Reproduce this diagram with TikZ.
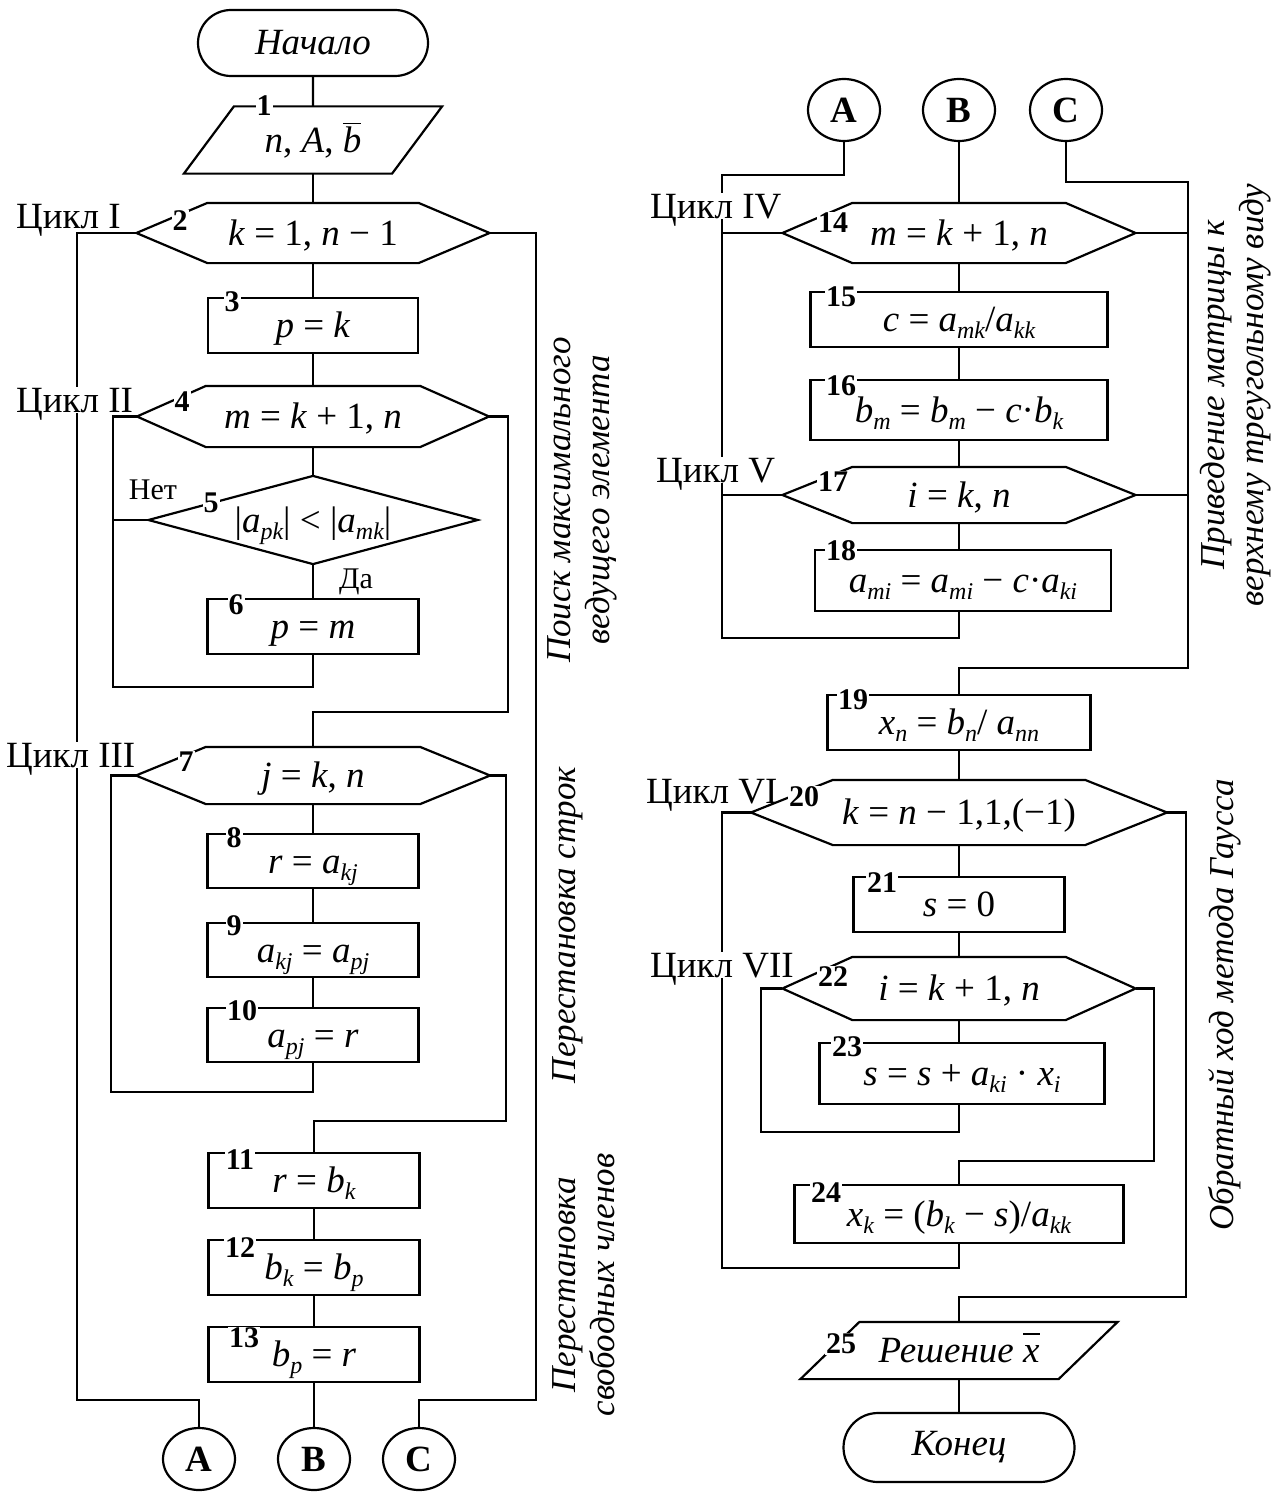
\documentclass[tikz,border=0pt]{standalone}
\usepackage{fontspec}
\setmainfont{Liberation Serif}
\usetikzlibrary{shapes.misc,shapes.geometric}
\newcommand{\fbig}{\fontsize{37}{42}\selectfont}
\newcommand{\fnum}{\fontsize{30}{32}\selectfont\bfseries}
\newcommand{\frot}{\fontsize{35}{39}\selectfont\itshape}
\newcommand{\fsmall}{\fontsize{30}{34}\selectfont}
\newcommand{\iv}[1]{\textit{#1}}
\newcommand{\sbs}[1]{\raisebox{-0.2em}[0pt][0pt]{\fontsize{24}{24}\selectfont\itshape #1}}
\newcommand{\ovl}[1]{\vbox{\hrule height 1.8pt\kern 2pt\hbox{\vphantom{b}\iv{#1}}}}
\newcommand{\hexa}[2]{\draw ([xshift=#2]#1.north west) -- ([xshift=-#2]#1.north east) -- (#1.east) -- ([xshift=-#2]#1.south east) -- ([xshift=#2]#1.south west) -- (#1.west) -- cycle;}
\newcommand{\iobox}[2]{\draw ([xshift=#2]#1.north west) -- ([xshift=#2]#1.north east) -- ([xshift=-#2]#1.south east) -- ([xshift=-#2]#1.south west) -- cycle;}
\newcommand{\rhomb}[1]{\draw (#1.north) -- (#1.east) -- (#1.south) -- (#1.west) -- cycle;}
\begin{document}
\begin{tikzpicture}[x=1pt,y=-1pt,line width=2.2pt,
    every node/.style={font=\fbig,inner sep=0pt},
    shp/.style={text height=28,text depth=4},
    box/.style={shp,draw,minimum height=55},
    term/.style={draw,rounded rectangle,font=\fbig\itshape},
    conn/.style={draw,ellipse,minimum width=72,minimum height=62,font=\fbig\bfseries},
    num/.style={font=\fnum,fill=white,inner sep=1pt},
    cyc/.style={fill=white,inner sep=1pt,text depth=0pt,anchor=base west},
    note/.style={rotate=90,align=center,font=\frot}]
        \useasboundingbox (0,0) rectangle (1279,1493);
        % left column
        \node[term,minimum width=230,minimum height=66] (0) at (313,43) {Начало};
        \node[shp,minimum width=206,minimum height=65] (1) at (313,140) {\iv{n}, \iv{A}, \ovl{b}};
        \node[shp,minimum width=351,minimum height=58] (2) at (313,233) {\iv{k} = 1, \iv{n} − 1};
        \node[box,minimum width=210] (3) at (313,325.5) {\iv{p} = \iv{k}};
        \node[shp,minimum width=350,minimum height=59] (4) at (313,416.5) {\iv{m} = \iv{k} + 1, \iv{n}};
        \node[shp,minimum width=327,minimum height=86] (5) at (313,520) {|\iv{a}\sbs{pk}| < |\iv{a}\sbs{mk}|};
        \node[box,minimum width=211] (6) at (313,626.5) {\iv{p} = \iv{m}};
        \node[shp,minimum width=352,minimum height=55] (7) at (313,775.5) {\iv{j} = \iv{k}, \iv{n}};
        \node[box,minimum width=211,minimum height=54] (8) at (313,861) {\iv{r} = \iv{a}\sbs{kj}};
        \node[box,minimum width=211,minimum height=54] (9) at (313,950) {\iv{a}\sbs{kj} = \iv{a}\sbs{pj}};
        \node[box,minimum width=211,minimum height=54] (10) at (313,1035) {\iv{a}\sbs{pj} = \iv{r}};
        \node[box,minimum width=211] (11) at (314,1180.5) {\iv{r} = \iv{b}\sbs{k}};
        \node[box,minimum width=211] (12) at (314,1267.5) {\iv{b}\sbs{k} = \iv{b}\sbs{p}};
        \node[box,minimum width=211] (13) at (314,1354.5) {\iv{b}\sbs{p} = \iv{r}};
        \node[conn] (A1) at (199,1459) {A};
        \node[conn] (B1) at (314,1459) {B};
        \node[conn] (C1) at (419,1459) {C};
        % right column
        \node[conn] (A2) at (844,110) {A};
        \node[conn] (B2) at (959,110) {B};
        \node[conn] (C2) at (1066,110) {C};
        \node[shp,minimum width=351,minimum height=58] (14) at (959,233) {\iv{m} = \iv{k} + 1, \iv{n}};
        \node[box,minimum width=297] (15) at (959,319.5) {\iv{c} = \iv{a}\sbs{mk}/\iv{a}\sbs{kk}};
        \node[box,minimum width=297,minimum height=60] (16) at (959,410) {\iv{b}\sbs{m} = \iv{b}\sbs{m} − \iv{c}·\iv{b}\sbs{k}};
        \node[shp,minimum width=351,minimum height=54] (17) at (959,495) {\iv{i} = \iv{k}, \iv{n}};
        \node[box,minimum width=296,minimum height=61] (18) at (963,580.5) {\iv{a}\sbs{mi} = \iv{a}\sbs{mi} − \iv{c}·\iv{a}\sbs{ki}};
        \node[box,minimum width=263] (19) at (959,722.5) {\iv{x}\sbs{n} = \iv{b}\sbs{n}/ \iv{a}\sbs{nn}};
        \node[shp,minimum width=414,minimum height=63] (20) at (959,812.5) {\iv{k} = \iv{n} − 1,1,(−1)};
        \node[box,minimum width=211] (21) at (959,904.5) {\iv{s} = 0};
        \node[shp,minimum width=351,minimum height=61] (22) at (959,988.5) {\iv{i} = \iv{k} + 1, \iv{n}};
        \node[box,minimum width=285,minimum height=61] (23) at (962,1073.5) {\iv{s} = \iv{s} + \iv{a}\sbs{ki} · \iv{x}\sbs{i}};
        \node[box,minimum width=329,minimum height=58] (24) at (959,1214) {\iv{x}\sbs{k} = (\iv{b}\sbs{k} − \iv{s})/\iv{a}\sbs{kk}};
        \node[shp,minimum width=256,minimum height=55] (25) at (959,1350.5) {\iv{Решение} \ovl{x}};
        \node[term,minimum width=231,minimum height=69] (26) at (959,1447.5) {Конец};
        % bends of the loops
        \coordinate (c1) at (77,1400);
        \coordinate (m1) at (536,1400);
        \coordinate (c2) at (113,687);
        \coordinate (m2) at (508,712);
        \coordinate (c3) at (111,1092);
        \coordinate (m3) at (506,1121);
        \coordinate (c4) at (722,175);
        \coordinate (c5) at (722,638);
        \coordinate (c6) at (1188,182);
        \coordinate (m5) at (1188,668);
        \coordinate (c7) at (761,1132);
        \coordinate (m7) at (1154,1161);
        \coordinate (c8) at (722,1268);
        \coordinate (m6) at (1186,1297);
        % flow lines
        \draw (0) -- (1);
        \draw (1) -- (2);
        \draw (2) -- (3);
        \draw (3) -- (4);
        \draw (4) -- (5);
        \draw (5) -- (6);
        \draw (7) -- (8);
        \draw (8) -- (9);
        \draw (9) -- (10);
        \draw (11) -- (12);
        \draw (12) -- (13);
        \draw (13) -- (B1);
        \draw (2.west) -| (c1) -| (A1.north);
        \draw (2.east) -| (m1) -| (C1.north);
        \draw (6.south) |- (c2) |- (4.west);
        \draw (5.west) -- (5.west -| c2);
        \draw (4.east) -| (m2) -| (7.north);
        \draw (10.south) |- (c3) |- (7.west);
        \draw (7.east) -| (m3) -| (11.north);
        \draw (B2) -- (14);
        \draw (14) -- (15);
        \draw (15) -- (16);
        \draw (16) -- (17);
        \draw (17.south) -- (17.south |- 18.north);
        \draw (A2.south) |- (c4) -- (c5) -| (18.south -| 17.south);
        \draw (14.west) -- (14.west -| c4);
        \draw (17.west) -- (17.west -| c4);
        \draw (C2.south) |- (c6) -- (m5) -| (19.north);
        \draw (14.east) -- (14.east -| c6);
        \draw (17.east) -- (17.east -| c6);
        \draw (19) -- (20);
        \draw (20) -- (21);
        \draw (21) -- (22);
        \draw (22.south) -- (22.south |- 23.north);
        \draw (23.south -| 22.south) |- (c7) |- (22.west);
        \draw (22.east) -| (m7) -| (24.north);
        \draw (24.south) |- (c8) |- (20.west);
        \draw (20.east) -| (m6) -| (25.north);
        \draw (25) -- (26);
        % loop names
        \node[cyc] (cI) at (14,228) {Цикл I};
        \node[cyc] (cII) at (14,412) {Цикл II};
        \node[cyc] (cIII) at (4,767) {Цикл III};
        \node[cyc] (cIV) at (648,218) {Цикл IV};
        \node[cyc] (cV) at (654,482) {Цикл V};
        \node[cyc] (cVI) at (644,803) {Цикл VI};
        \node[cyc] (cVII) at (648,977) {Цикл VII};
        % outlines
        \iobox{1}{25}
        \hexa{2}{71}
        \hexa{4}{69}
        \rhomb{5}
        \hexa{7}{70}
        \hexa{14}{70}
        \hexa{17}{70}
        \hexa{20}{82}
        \hexa{22}{70}
        \iobox{25}{29.5}
        % block numbers
        \node[num] (l1) at (264,106) {1};
        \node[num] (l2) at (180,221) {2};
        \node[num] (l3) at (232,302) {3};
        \node[num] (l4) at (182,402) {4};
        \node[num] (l5) at (211,503) {5};
        \node[num] (l6) at (236,605) {6};
        \node[num] (l7) at (186,762) {7};
        \node[num] (l8) at (234,838) {8};
        \node[num] (l9) at (234,926) {9};
        \node[num] (l10) at (242,1011) {10};
        \node[num] (l11) at (240,1160) {11};
        \node[num] (l12) at (240,1248) {12};
        \node[num] (l13) at (244,1338) {13};
        \node[num] (l14) at (833,223) {14};
        \node[num] (l15) at (841,297) {15};
        \node[num] (l16) at (841,386) {16};
        \node[num] (l17) at (833,482) {17};
        \node[num] (l18) at (841,551) {18};
        \node[num] (l19) at (853,700) {19};
        \node[num] (l20) at (804,797) {20};
        \node[num] (l21) at (882,883) {21};
        \node[num] (l22) at (833,977) {22};
        \node[num] (l23) at (847,1047) {23};
        \node[num] (l24) at (826,1193) {24};
        \node[num] (l25) at (841,1344) {25};
        \node[font=\fsmall] (no) at (153,490) {Нет};
        \node[font=\fsmall] (yes) at (356,582) {Да};
        % side notes
        \node[note] (p1) at (582,500) {Поиск максимального\\ведущего элемента};
        \node[note] (p2) at (568,925) {Перестановка строк};
        \node[note] (p3) at (584,1285) {Перестановка\\свободных членов};
        \node[note] (p4) at (1236,395) {Приведение матрицы к\\верхнему треугольному виду};
        \node[note] (p5) at (1225,1005) {Обратный ход метода Гаусса};
      \end{tikzpicture}
\end{document}
